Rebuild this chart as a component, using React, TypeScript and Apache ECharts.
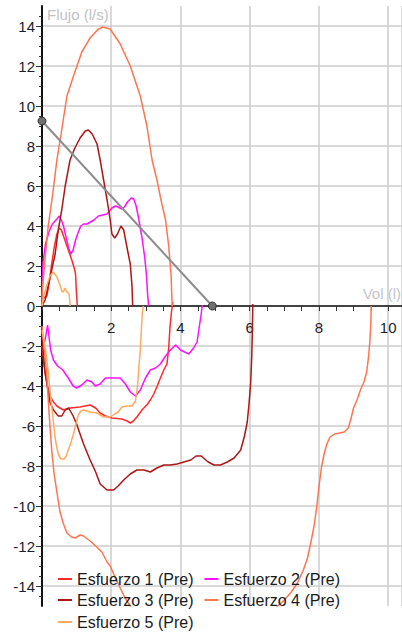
import React, { useEffect, useRef } from "react";
import * as echarts from "echarts";

// ---- axis tick values ----
const yTickValues = [-14, -12, -10, -8, -6, -4, -2, 0, 2, 4, 6, 8, 10, 12, 14];
const xLabelValues = [2, 4, 6, 8, 10];
const xTickValues = [0, 0.5, 1, 1.5, 2, 2.5, 3, 3.5, 4, 4.5, 5, 5.5, 6, 6.5, 7, 7.5, 8, 8.5, 9, 9.5, 10];

// ---- series names / colours ----
const names = ["Esfuerzo 1 (Pre)", "Esfuerzo 2 (Pre)", "Esfuerzo 3 (Pre)", "Esfuerzo 4 (Pre)", "Esfuerzo 5 (Pre)"];
const colors = ["#ff2a2a", "#ff10ff", "#b01515", "#ff7550", "#ffaa60"];

// ---- data [volume (l), flow (l/s)] ----
const esf1Exp = [[0, 0], [0.03, 0.5], [0.08, 0.4], [0.14, 0.5], [0.2, 1.1], [0.28, 2.1], [0.36, 3.0], [0.43, 3.6], [0.5, 3.9], [0.56, 3.8], [0.62, 3.5], [0.72, 3.0], [0.8, 2.6], [0.86, 2.3], [0.93, 1.9], [0.97, 1.6], [0.99, 0.8], [1.02, 0]];
const esf1Insp = [[0, -2.0], [0.05, -2.8], [0.09, -3.4], [0.16, -4.0], [0.23, -4.5], [0.33, -4.8], [0.43, -5.0], [0.52, -5.1], [0.62, -5.2], [0.81, -5.1], [1.1, -5.05], [1.39, -4.95], [1.55, -5.1], [1.68, -5.35], [1.83, -5.5], [2.02, -5.6], [2.31, -5.65], [2.46, -5.75], [2.55, -5.85], [2.64, -5.75], [2.74, -5.55], [2.89, -5.2], [3.05, -4.9], [3.13, -4.7], [3.23, -4.4], [3.33, -4.0], [3.42, -3.6], [3.52, -3.2], [3.61, -2.9], [3.66, -2.1], [3.7, -1.0], [3.74, -0.3], [3.78, 0.2]];

const esf2Exp = [[0, 0.3], [0.01, 1.2], [0.03, 2.2], [0.1, 3.1], [0.2, 3.7], [0.3, 4.1], [0.43, 4.35], [0.5, 4.5], [0.56, 4.3], [0.62, 4.0], [0.7, 3.4], [0.77, 2.9], [0.83, 2.6], [0.9, 2.8], [0.97, 3.3], [1.05, 3.7], [1.12, 4.0], [1.2, 4.1], [1.3, 4.1], [1.4, 4.2], [1.5, 4.3], [1.63, 4.5], [1.75, 4.55], [1.88, 4.6], [2.02, 4.9], [2.12, 5.0], [2.2, 4.95], [2.3, 4.85], [2.38, 4.95], [2.47, 5.2], [2.58, 5.4], [2.65, 5.35], [2.72, 5.0], [2.79, 4.4], [2.89, 3.4], [2.97, 2.4], [3.02, 1.5], [3.05, 0.6], [3.08, 0]];
const esf2Insp = [[0, -1.3], [0.04, -2.0], [0.1, -1.6], [0.16, -0.95], [0.2, -1.5], [0.25, -2.2], [0.33, -2.7], [0.45, -3.0], [0.6, -3.2], [0.76, -3.6], [0.9, -4.0], [1.0, -4.1], [1.15, -3.95], [1.3, -3.7], [1.44, -3.8], [1.54, -4.0], [1.68, -3.9], [1.83, -3.6], [2.02, -3.6], [2.26, -3.6], [2.41, -3.9], [2.55, -4.3], [2.7, -4.5], [2.84, -4.2], [2.99, -3.6], [3.13, -3.2], [3.28, -3.1], [3.42, -2.9], [3.57, -2.5], [3.71, -2.2], [3.86, -1.95], [4.0, -2.2], [4.24, -2.4], [4.38, -2.1], [4.48, -1.8], [4.53, -1.2], [4.6, -0.4], [4.63, 0.05]];

const esf3Exp = [[0, 0], [0.09, 0.3], [0.18, 1.0], [0.28, 1.8], [0.38, 2.6], [0.47, 3.8], [0.57, 4.8], [0.67, 6.0], [0.81, 7.3], [0.95, 7.9], [1.1, 8.4], [1.25, 8.75], [1.34, 8.8], [1.45, 8.6], [1.59, 8.1], [1.68, 7.3], [1.78, 6.3], [1.88, 5.3], [1.97, 4.3], [2.02, 3.6], [2.1, 3.4], [2.18, 3.6], [2.28, 4.0], [2.36, 3.8], [2.47, 2.8], [2.55, 2.1], [2.6, 1.0], [2.62, 0]];
const esf3Insp = [[0, -1.5], [0.07, -3.0], [0.14, -3.9], [0.23, -4.8], [0.33, -5.2], [0.47, -5.5], [0.57, -5.5], [0.67, -5.2], [0.77, -5.1], [0.9, -5.5], [1.0, -5.9], [1.2, -6.9], [1.39, -7.7], [1.55, -8.3], [1.68, -8.9], [1.88, -9.2], [2.07, -9.2], [2.2, -9.0], [2.36, -8.7], [2.55, -8.4], [2.74, -8.2], [2.95, -8.2], [3.13, -8.3], [3.32, -8.1], [3.52, -7.95], [3.71, -7.95], [3.9, -7.9], [4.1, -7.8], [4.3, -7.7], [4.45, -7.5], [4.6, -7.5], [4.8, -7.8], [4.97, -7.95], [5.16, -7.95], [5.35, -7.8], [5.55, -7.6], [5.74, -7.2], [5.85, -6.5], [5.93, -5.8], [5.98, -4.9], [6.03, -3.8], [6.06, -2.5], [6.08, -1.0], [6.09, 0.1]];

const esf4Exp = [[0, 0], [0.02, 1.0], [0.09, 2.4], [0.18, 4.0], [0.31, 5.6], [0.43, 7.3], [0.57, 8.8], [0.72, 10.5], [0.91, 11.5], [1.15, 12.7], [1.39, 13.4], [1.6, 13.8], [1.75, 13.95], [1.97, 13.85], [2.26, 13.1], [2.55, 12.0], [2.84, 10.5], [3.03, 9.0], [3.18, 7.3], [3.32, 6.3], [3.45, 5.2], [3.57, 4.3], [3.66, 3.0], [3.73, 1.5], [3.76, 0]];
const esf4Insp = [[0, -1.0], [0.06, -2.0], [0.14, -3.5], [0.21, -5.5], [0.28, -7.2], [0.35, -8.4], [0.43, -9.3], [0.52, -10.3], [0.62, -10.9], [0.72, -11.35], [0.85, -11.55], [0.96, -11.6], [1.1, -11.45], [1.2, -11.5], [1.39, -11.75], [1.55, -12.0], [1.73, -12.3], [1.88, -12.8], [1.97, -13.0], [2.12, -13.6], [2.26, -14.1], [2.4, -14.6], [2.55, -15.0], [2.7, -15.5], [3.2, -16.5], [4.5, -17.5], [5.8, -17.2], [6.5, -15.8], [6.75, -15.1], [7.0, -14.7], [7.2, -14.3], [7.38, -13.85], [7.55, -13.2], [7.67, -12.6], [7.77, -11.8], [7.86, -11.0], [7.94, -10.0], [8.01, -8.9], [8.08, -8.0], [8.15, -7.4], [8.23, -6.9], [8.32, -6.55], [8.45, -6.4], [8.6, -6.35], [8.73, -6.3], [8.85, -6.1], [8.93, -5.6], [9.0, -5.1], [9.1, -4.7], [9.2, -4.2], [9.3, -3.8], [9.38, -3.3], [9.43, -2.6], [9.47, -1.8], [9.5, -0.9], [9.51, 0]];

const esf5Exp = [[0, 0], [0.05, 0.5], [0.1, 0.8], [0.14, 1.05], [0.23, 1.5], [0.33, 1.7], [0.43, 1.45], [0.52, 1.05], [0.57, 0.75], [0.62, 0.7], [0.66, 0.9], [0.72, 0.7], [0.78, 0.6], [0.8, 0.3], [0.81, 0]];
const esf5Insp = [[0, -1.2], [0.04, -1.6], [0.1, -2.2], [0.14, -2.7], [0.19, -3.5], [0.23, -4.2], [0.28, -5.0], [0.33, -5.8], [0.38, -6.6], [0.43, -7.1], [0.48, -7.45], [0.55, -7.65], [0.64, -7.65], [0.7, -7.5], [0.76, -7.2], [0.84, -6.8], [0.91, -6.4], [0.98, -5.9], [1.05, -5.45], [1.12, -5.25], [1.2, -5.2], [1.39, -5.3], [1.59, -5.35], [1.78, -5.55], [1.97, -5.55], [2.1, -5.4], [2.2, -5.3], [2.31, -5.05], [2.46, -5.0], [2.6, -5.0], [2.7, -4.75], [2.76, -4.0], [2.8, -3.0], [2.84, -2.2], [2.87, -1.2], [2.9, -0.3], [2.93, 0]];

// reference line (peak flow -> FVC)
const refLine = [[0, 9.25], [4.92, 0]];

const curves = [
  [esf1Exp, esf1Insp],
  [esf2Exp, esf2Insp],
  [esf3Exp, esf3Insp],
  [esf4Exp, esf4Insp],
  [esf5Exp, esf5Insp],
];

const FONT = "'Liberation Sans', Arial, sans-serif";
const TICK_COLOR = "#1c1c2c";

export default function App() {
  const ref = useRef<HTMLDivElement>(null);

  useEffect(() => {
    if (!ref.current) return;
    const chart = echarts.init(ref.current, null, { renderer: "svg" });

    const series: any[] = [];
    curves.forEach((pair, i) => {
      pair.forEach((data) => {
        series.push({
          type: "line",
          name: names[i],
          data,
          symbol: "none",
          showSymbol: false,
          clip: true,
          lineStyle: { color: colors[i], width: 1.5 },
          itemStyle: { color: colors[i] },
          z: 2,
        });
      });
    });
    series.push({
      type: "line",
      name: "Referencia",
      data: refLine,
      symbol: "circle",
      symbolSize: 8,
      clip: false,
      lineStyle: { color: "#8c8c8c", width: 2 },
      itemStyle: { color: "#707070", borderColor: "#333", borderWidth: 1 },
      z: 3,
    });

    const legendCommon = {
      left: 58,
      padding: 0,
      itemGap: 11,
      itemWidth: 14,
      itemHeight: 2,
      icon: "rect",
      textStyle: { fontSize: 16, color: "#1a1a1a", fontFamily: FONT },
    };

    chart.setOption({
      animation: false,
      backgroundColor: "#ffffff",
      grid: { left: 42, right: 0, top: 6, bottom: 28, outerBoundsMode: "none" },
      xAxis: [
        {
          type: "value",
          min: 0,
          max: 10.4,
          position: "bottom",
          offset: -300,
          axisLine: { show: true, onZero: false, lineStyle: { color: "#111", width: 1.5 } },
          axisTick: { show: true, customValues: xTickValues, length: 5, lineStyle: { color: "#333" } },
          axisLabel: { customValues: xLabelValues, margin: 14, fontSize: 15, color: TICK_COLOR, fontFamily: FONT },
          splitLine: { show: false },
        },
        {
          type: "value",
          min: 0,
          max: 10.4,
          interval: 2,
          position: "top",
          axisLine: { show: false },
          axisTick: { show: false },
          axisLabel: { show: false },
          splitLine: { show: true, lineStyle: { color: "#cdcdcd", width: 1.5 } },
        },
      ],
      yAxis: {
        type: "value",
        min: -15,
        max: 15,
        interval: 5,
        axisLine: { show: true, onZero: false, lineStyle: { color: "#111", width: 2 } },
        axisTick: { show: true, customValues: yTickValues, length: 6, lineStyle: { color: "#333" } },
        minorTick: { show: true, splitNumber: 10, length: 3, lineStyle: { color: "#333" } },
        axisLabel: { customValues: yTickValues, margin: 7, fontSize: 15, color: TICK_COLOR, fontFamily: FONT },
        splitLine: { show: true, lineStyle: { color: "#cdcdcd", width: 1.5 } },
      },
      legend: [
        { ...legendCommon, top: 571, data: [names[0], names[1]] },
        { ...legendCommon, top: 592, data: [names[2], names[3]] },
        { ...legendCommon, top: 614, data: [names[4]] },
      ],
      graphic: [
        {
          type: "text",
          left: 47,
          top: 7,
          style: { text: "Flujo (l/s)", fontSize: 15, fill: "#c2c2c2", fontFamily: FONT },
        },
        {
          type: "text",
          right: 1,
          top: 286,
          style: { text: "Vol (l)", fontSize: 15, fill: "#c2c6cc", fontFamily: FONT },
        },
      ],
      series,
    });

    return () => chart.dispose();
  }, []);

  return (
    <div
      ref={ref}
      style={{ position: "fixed", left: 0, top: 0, width: 402, height: 634, background: "#fff" }}
    />
  );
}
